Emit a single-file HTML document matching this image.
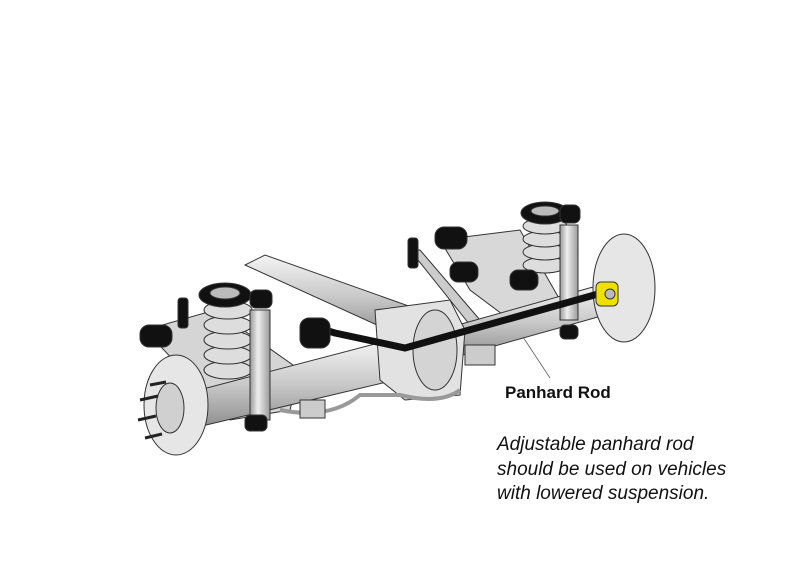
<!DOCTYPE html>
<html><head><style>
html,body{margin:0;padding:0;background:#fff;width:804px;height:573px;overflow:hidden;position:relative}
.t{position:absolute;font-family:"Liberation Sans",sans-serif;color:#111}
</style></head><body>
<svg width="804" height="573" style="position:absolute;left:0;top:0">
<defs>
<linearGradient id="g" x1="0" y1="0" x2="0" y2="1"><stop offset="0" stop-color="#f4f4f4"/><stop offset=".5" stop-color="#c8c8c8"/><stop offset="1" stop-color="#8a8a8a"/></linearGradient>
<linearGradient id="gh" x1="0" y1="0" x2="1" y2="0"><stop offset="0" stop-color="#999"/><stop offset=".4" stop-color="#eee"/><stop offset="1" stop-color="#9a9a9a"/></linearGradient>
</defs>
<g stroke="#333" stroke-width="1">
<polygon points="145,330 215,310 300,370 290,410 230,420" fill="#d5d5d5"/>
<polygon points="440,240 520,230 560,300 510,320 470,290" fill="#d8d8d8"/>
<polygon points="245,265 265,255 420,310 410,340" fill="url(#g)"/>
<polygon points="410,250 420,250 480,320 470,325" fill="#ccc"/>
<polygon points="180,395 390,340 395,380 185,430" fill="url(#g)"/>
<polygon points="440,330 600,285 605,315 445,360" fill="url(#g)"/>
<polygon points="375,310 450,300 465,330 460,395 405,400 380,380" fill="#e2e2e2"/>
<ellipse cx="435" cy="350" rx="22" ry="40" fill="#d4d4d4"/>
<path d="M280,410 Q330,420 360,395 L400,395 Q440,405 460,390" fill="none" stroke="#999" stroke-width="4"/>
<g fill="#ddd">
<ellipse cx="228" cy="370" rx="24" ry="9"/><ellipse cx="228" cy="355" rx="24" ry="9"/><ellipse cx="228" cy="340" rx="24" ry="9"/><ellipse cx="228" cy="325" rx="24" ry="9"/><ellipse cx="228" cy="310" rx="24" ry="9"/>
</g>
<ellipse cx="225" cy="295" rx="26" ry="12" fill="#111"/><ellipse cx="225" cy="293" rx="15" ry="6" fill="#bbb"/>
<g fill="#ddd">
<ellipse cx="545" cy="265" rx="22" ry="8"/><ellipse cx="545" cy="252" rx="22" ry="8"/><ellipse cx="545" cy="239" rx="22" ry="8"/><ellipse cx="545" cy="226" rx="22" ry="8"/>
</g>
<ellipse cx="545" cy="213" rx="24" ry="11" fill="#111"/><ellipse cx="545" cy="211" rx="14" ry="5" fill="#bbb"/>
<rect x="250" y="310" width="20" height="110" fill="url(#gh)"/>
<rect x="560" y="225" width="18" height="95" fill="url(#gh)"/>
<ellipse cx="176" cy="405" rx="32" ry="50" fill="#e6e6e6"/>
<ellipse cx="170" cy="408" rx="14" ry="25" fill="#d0d0d0"/>
<ellipse cx="624" cy="288" rx="31" ry="54" fill="#e6e6e6"/>
<g stroke="#222" stroke-width="3"><line x1="140" y1="400" x2="158" y2="396"/><line x1="138" y1="420" x2="156" y2="416"/><line x1="145" y1="438" x2="162" y2="434"/><line x1="150" y1="385" x2="166" y2="382"/></g>
<polyline points="318,328 335,333 405,348 598,294" fill="none" stroke="#111" stroke-width="7"/>
<rect x="596" y="282" width="22" height="24" rx="5" fill="#f0e000"/>
<circle cx="610" cy="294" r="5" fill="#bbb"/>
<g fill="#111">
<rect x="140" y="325" width="32" height="22" rx="9"/>
<rect x="300" y="318" width="30" height="30" rx="9"/>
<rect x="435" y="227" width="32" height="22" rx="9"/>
<rect x="450" y="262" width="28" height="20" rx="8"/>
<rect x="510" y="270" width="28" height="20" rx="8"/>
<rect x="250" y="290" width="22" height="18" rx="6"/>
<rect x="560" y="205" width="20" height="18" rx="6"/>
<rect x="245" y="415" width="22" height="16" rx="5"/>
<rect x="560" y="325" width="18" height="14" rx="5"/>
<rect x="408" y="238" width="10" height="30" rx="3"/>
<rect x="178" y="298" width="10" height="30" rx="3"/>
</g>
<rect x="300" y="400" width="25" height="18" fill="#ccc"/>
<rect x="465" y="345" width="30" height="20" fill="#ccc"/>
<line x1="523" y1="337" x2="550" y2="378" stroke="#555" stroke-width="0.7"/>
</g>
</svg>
<div class="t" style="left:505px;top:383px;font-size:17px;font-weight:bold">Panhard Rod</div>
<div class="t" style="left:497px;top:433px;font-size:19px;font-style:italic;line-height:24.5px">Adjustable panhard rod<br>should be used on vehicles<br>with lowered suspension.</div>
</body></html>
